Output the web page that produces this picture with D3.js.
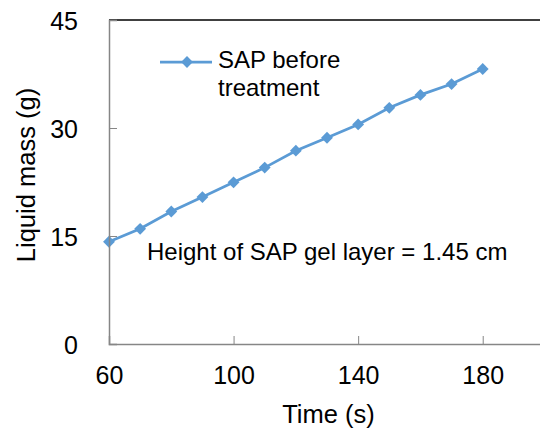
<!DOCTYPE html>
<html><head><meta charset="utf-8">
<script src="https://cdn.jsdelivr.net/npm/d3@7"></script>
<style>body{margin:0;background:#fff}svg{display:block}text{font-family:"Liberation Sans",Arial,sans-serif;fill:#000}</style>
</head><body>
<svg id="c" width="540" height="428"></svg>
<script>
const times = [60,70,80,90,100,110,120,130,140,150,160,170,180];
const liquidMass = [14.2,16.0,18.4,20.4,22.45,24.5,26.85,28.65,30.5,32.8,34.6,36.1,38.2];
const xTicks = [60,100,140,180];
const yTicks = [0,15,30,45];
const seriesName = ["SAP before","treatment"];
const annotation = "Height of SAP gel layer = 1.45 cm";
const xTitle = "Time (s)";
const yTitle = "Liquid mass (g)";

const svg = d3.select("#c");
const x = d3.scaleLinear().domain([60,200]).range([109,545]);
const y = d3.scaleLinear().domain([0,45]).range([344,20]);
const blue = "#5B9BD5", gray = "#868686";
const fsTick = 25, fsText = 24, fsTitle = 25.5;
const marker = d3.symbol().type(d3.symbolSquare).size(70);

// series
const pts = times.map((t,i)=>[t,liquidMass[i]]);
svg.append("path").datum(pts).attr("fill","none").attr("stroke",blue).attr("stroke-width",2.75)
  .attr("d",d3.line().x(d=>x(d[0])).y(d=>y(d[1])));
svg.append("g").selectAll("path").data(pts).join("path")
  .attr("d", marker).attr("transform",d=>`translate(${x(d[0])},${y(d[1])}) rotate(45)`)
  .attr("fill",blue);

// top border
svg.append("line").attr("x1",x(60)).attr("x2",540).attr("y1",y(45)).attr("y2",y(45))
  .attr("stroke","#000").attr("stroke-width",1.5);

// axes
const xa = svg.append("g").attr("transform",`translate(0,${y(0)})`)
  .call(d3.axisBottom(x).tickValues(xTicks).tickSize(-8).tickPadding(22).tickFormat(d3.format("d")));
const ya = svg.append("g").attr("transform",`translate(${x(60)},0)`)
  .call(d3.axisLeft(y).tickValues(yTicks).tickSize(-8).tickPadding(31).tickFormat(d3.format("d")));
[xa,ya].forEach(a=>{
  a.select(".domain").attr("stroke",gray).attr("stroke-width",1.5);
  a.selectAll(".tick line").attr("stroke",gray).attr("stroke-width",1);
  a.selectAll(".tick text").attr("font-size",fsTick).attr("font-family","Liberation Sans, Arial, sans-serif").attr("fill","#000");
});
xa.selectAll(".tick").filter(d=>d===60).select("line").remove();
ya.selectAll(".tick").filter(d=>d===0||d===45).select("line").remove();
xa.selectAll(".tick text").attr("dy","0.71em");
ya.selectAll(".tick text").attr("dy","0.36em");

// legend
const lg = svg.append("g");
lg.append("line").attr("x1",160).attr("x2",212).attr("y1",62).attr("y2",62).attr("stroke",blue).attr("stroke-width",2.75);
lg.append("path").attr("d",marker).attr("transform","translate(187,62) rotate(45)").attr("fill",blue);
lg.selectAll("text").data(seriesName).join("text").attr("x",218).attr("y",(d,i)=>68+i*28)
  .attr("font-size",fsText).text(d=>d);

// annotation
svg.append("text").attr("x",147).attr("y",259.5).attr("font-size",fsText).text(annotation);

// titles
svg.append("text").attr("x",328.5).attr("y",423).attr("text-anchor","middle").attr("font-size",fsTitle).text(xTitle);
svg.append("text").attr("transform",`translate(34.5,175) rotate(-90)`).attr("text-anchor","middle").attr("font-size",fsTitle).text(yTitle);
</script>
</body></html>
